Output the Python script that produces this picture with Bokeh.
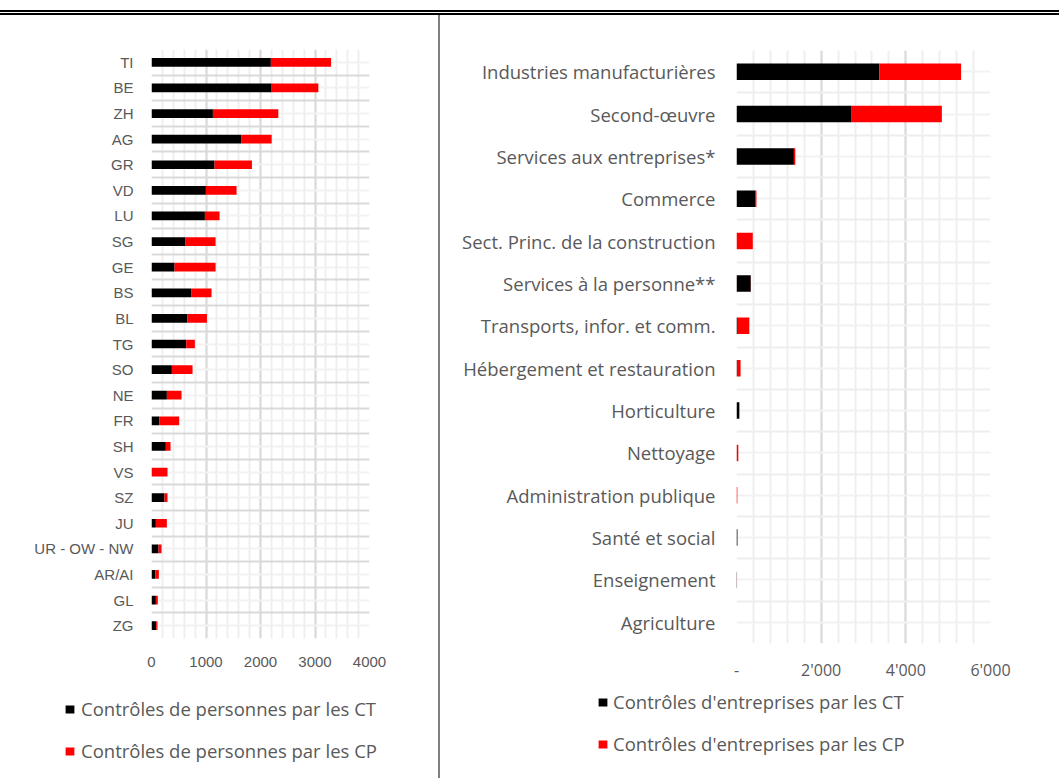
from bokeh.plotting import figure
from bokeh.models import Range1d, FixedTicker, Legend, LegendItem, Div, ColumnDataSource
from bokeh.layouts import row, column
from bokeh.embed import file_html
from bokeh.resources import INLINE

# ---------------- data: left chart (contrôles de personnes) ----------------
cantons = ["TI", "BE", "ZH", "AG", "GR", "VD", "LU", "SG", "GE", "BS", "BL", "TG",
           "SO", "NE", "FR", "SH", "VS", "SZ", "JU", "UR - OW - NW", "AR/AI", "GL", "ZG"]
pers_ct = [2190, 2205, 1127, 1653, 1157, 998, 980, 625, 423, 735, 661, 637,
           374, 282, 147, 263, 0, 239, 80, 129, 73, 80, 86]
pers_cp = [1105, 857, 1200, 552, 686, 563, 269, 551, 753, 367, 356, 159,
           379, 269, 361, 86, 294, 55, 202, 55, 62, 36, 24]
left_ticks = [0, 1000, 2000, 3000, 4000]
left_tick_labels = ["0", "1000", "2000", "3000", "4000"]
left_legend = ["Contrôles de personnes par les CT", "Contrôles de personnes par les CP"]

# ---------------- data: right chart (contrôles d'entreprises) ----------------
branches = ["Industries manufacturières", "Second-œuvre", "Services aux entreprises*",
            "Commerce", "Sect. Princ. de la construction", "Services à la personne**",
            "Transports, infor. et comm.", "Hébergement et restauration", "Horticulture",
            "Nettoyage", "Administration publique", "Santé et social", "Enseignement",
            "Agriculture"]
entr_ct = [3377, 2720, 1356, 438, 0, 337, 30, 8, 67, 3, 0, 22, 10, 0]
entr_cp = [1928, 2131, 33, 34, 385, 3, 273, 88, 2, 40, 20, 2, 3, 0]
right_ticks = [0, 2000, 4000, 6000]
right_tick_labels = ["-", "2'000", "4'000", "6'000"]
right_legend = ["Contrôles d'entreprises par les CT", "Contrôles d'entreprises par les CP"]

CT_COLOR = "#000000"
CP_COLOR = "#FF0000"
GRAY_TXT = "#595959"
SANS_A = "Liberation Sans"
SANS_C = "Open Sans"


def build(cats, ct, cp, ticks, tick_labels, minor_step, *,
          width, height, borders, bar_h, cat_font, cat_size, tick_font, tick_size,
          cat_standoff, tick_standoff, hgrid_major):
    n = len(cats)
    ys = list(range(n))
    src = ColumnDataSource(dict(y=ys, ct=ct, tot=[a + b for a, b in zip(ct, cp)]))
    p = figure(width=width, height=height, x_range=Range1d(ticks[0], ticks[-1]),
               y_range=Range1d(n - 0.5, -0.5), toolbar_location=None,
               output_backend="svg", outline_line_color=None,
               min_border_left=borders[0], min_border_right=borders[1],
               min_border_top=borders[2], min_border_bottom=borders[3])
    p.hbar(y="y", left=0, right="ct", height=bar_h, source=src,
           fill_color=CT_COLOR, line_color=None)
    p.hbar(y="y", left="ct", right="tot", height=bar_h, source=src,
           fill_color=CP_COLOR, line_color=None)

    # y axis
    p.yaxis.ticker = FixedTicker(ticks=ys)
    p.yaxis.major_label_overrides = {i: c for i, c in enumerate(cats)}
    p.yaxis.major_label_text_font = cat_font
    p.yaxis.major_label_text_font_size = cat_size
    p.yaxis.major_label_text_color = GRAY_TXT
    p.yaxis.major_label_standoff = cat_standoff
    p.yaxis.axis_line_color = None
    p.yaxis.major_tick_line_color = None
    p.yaxis.minor_tick_line_color = None

    # x axis
    minors = list(range(ticks[0], ticks[-1] + 1, minor_step))
    p.xaxis.ticker = FixedTicker(ticks=ticks)
    p.xaxis.major_label_overrides = {t: l for t, l in zip(ticks, tick_labels)}
    p.xaxis.major_label_text_font = tick_font
    p.xaxis.major_label_text_font_size = tick_size
    p.xaxis.major_label_text_color = GRAY_TXT
    p.xaxis.major_label_standoff = tick_standoff
    p.xaxis.axis_line_color = None
    p.xaxis.major_tick_line_color = None
    p.xaxis.minor_tick_line_color = None

    # grids
    p.xgrid.ticker = FixedTicker(ticks=ticks, minor_ticks=minors)
    p.xgrid.grid_line_color = "#d9d9d9"
    p.xgrid.grid_line_width = 2
    p.xgrid.minor_grid_line_color = "#efefef"
    p.xgrid.minor_grid_line_width = 2
    p.ygrid.ticker = FixedTicker(ticks=[i - 0.5 for i in range(n + 1)], minor_ticks=ys)
    p.ygrid.grid_line_color = hgrid_major
    p.ygrid.grid_line_width = 2
    p.ygrid.minor_grid_line_color = "#f2f2f2"
    p.ygrid.minor_grid_line_width = 2
    return p


def legend_panel(labels, *, width, height, loc, spacing, standoff):
    lf = figure(width=width, height=height, x_range=Range1d(0, 1), y_range=Range1d(0, 1),
                toolbar_location=None, output_backend="svg", x_axis_type=None,
                y_axis_type=None, min_border=0, outline_line_color=None)
    lf.grid.visible = False
    # swatch renderers for the legend (kept outside the visible range)
    g1 = lf.hbar(y=[5], left=[0], right=[0], height=0.1, fill_color=CT_COLOR, line_color=None)
    g2 = lf.hbar(y=[5], left=[0], right=[0], height=0.1, fill_color=CP_COLOR, line_color=None)
    legend = Legend(items=[LegendItem(label=labels[0], renderers=[g1]),
                           LegendItem(label=labels[1], renderers=[g2])],
                    location=loc, orientation="vertical",
                    glyph_width=11, glyph_height=10, label_standoff=standoff,
                    spacing=spacing, padding=0, margin=0, label_height=25,
                    border_line_color=None, background_fill_alpha=0,
                    label_text_font=SANS_C, label_text_font_size="18.5px",
                    label_text_color=GRAY_TXT)
    lf.add_layout(legend)
    return lf


p_left = build(cantons, pers_ct, pers_cp, left_ticks, left_tick_labels, 200,
               width=438, height=670, borders=(151, 69, 34, 47), bar_h=0.34,
               cat_font=SANS_A, cat_size="15px", tick_font=SANS_A, tick_size="15px",
               cat_standoff=12, tick_standoff=12, hgrid_major="#d9d9d9")
leg_left = legend_panel(left_legend, width=438, height=93, loc=(64, 15), spacing=17,
                        standoff=6)

p_right = build(branches, entr_ct, entr_cp, right_ticks, right_tick_labels, 400,
                width=619, height=670, borders=(296, 69, 35, 42), bar_h=0.39,
                cat_font=SANS_C, cat_size="18.5px", tick_font=SANS_C, tick_size="16px",
                cat_standoff=15, tick_standoff=9, hgrid_major="#eeeeee")
leg_right = legend_panel(right_legend, width=619, height=93, loc=(157, 22), spacing=17,
                         standoff=5)

W = "width:1059px;"
top_rule = Div(text=f'<div style="{W}height:10px"></div>'
                    f'<div style="{W}height:2px;background:#000"></div>'
                    f'<div style="{W}height:1px"></div>'
                    f'<div style="{W}height:2px;background:#000"></div>',
               width=1059, height=15, margin=0)
divider_top = Div(text='<div style="width:2px;height:670px;background:#808080"></div>',
                  width=2, height=670, margin=0)
divider_bottom = Div(text='<div style="width:2px;height:93px;background:#808080"></div>',
                     width=2, height=93, margin=0)

# each chart wrapped on its own so that the two plot frames keep their own extents
layout = column(top_rule,
                row(column(p_left), divider_top, column(p_right), spacing=0),
                row(leg_left, divider_bottom, leg_right, spacing=0),
                spacing=0)

open("out.html", "w").write(file_html(layout, INLINE))
